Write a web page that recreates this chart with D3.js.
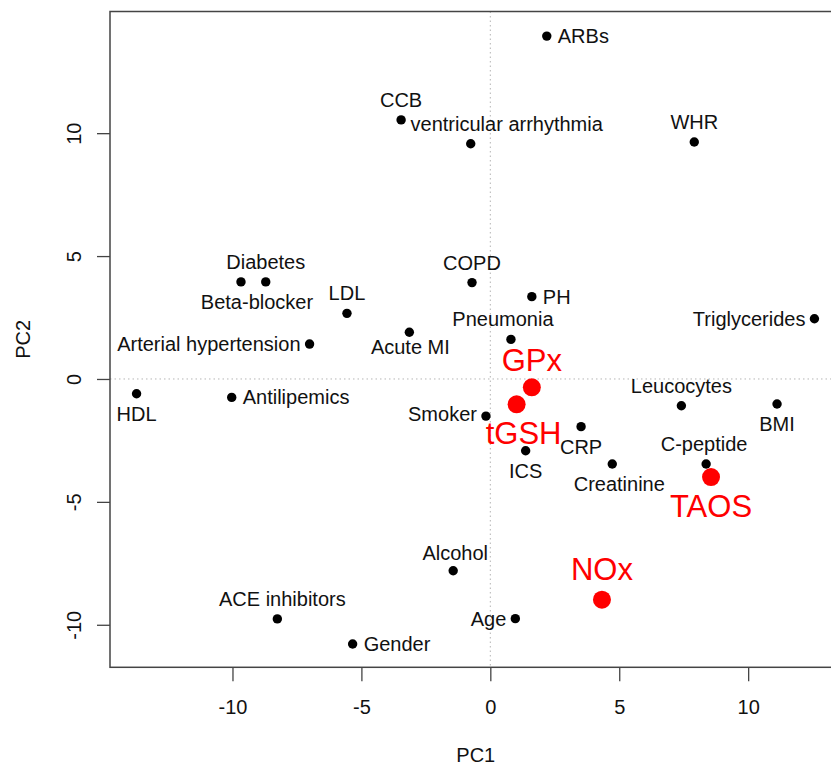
<!DOCTYPE html>
<html>
<head>
<meta charset="utf-8">
<script src="https://cdn.jsdelivr.net/npm/d3@7"></script>
<style>
  body { margin: 0; background: #fff; }
  svg text { font-family: "Liberation Sans", Arial, sans-serif; }
</style>
</head>
<body>
<svg id="chart" width="831" height="765"></svg>
<script>
// variables and their loadings on the first two components
var names = ["ARBs", "CCB", "ventricular arrhythmia", "WHR", "COPD", "PH", "Pneumonia",
    "Triglycerides", "Acute MI", "Diabetes", "Beta-blocker", "LDL", "Arterial hypertension",
    "HDL", "Antilipemics", "GPx", "tGSH", "Smoker", "Leucocytes", "BMI", "CRP", "ICS",
    "Creatinine", "C-peptide", "TAOS", "Alcohol", "NOx", "Age", "ACE inhibitors", "Gender"];
var pc1 = [2.19, -3.46, -0.76, 7.91, -0.71, 1.61, 0.80,
    12.57, -3.14, -8.71, -9.67, -5.56, -7.01,
    -13.72, -10.03, 1.61, 1.02, -0.17, 7.41, 11.12, 3.52, 1.37,
    4.73, 8.37, 8.56, -1.44, 4.33, 0.97, -8.26, -5.34];
var pc2 = [13.95, 10.54, 9.57, 9.64, 3.92, 3.35, 1.61,
    2.45, 1.90, 3.95, 3.95, 2.67, 1.42,
    -0.60, -0.75, -0.34, -1.03, -1.51, -1.09, -1.02, -1.94, -2.92,
    -3.46, -3.46, -3.99, -7.80, -8.98, -9.75, -9.76, -10.78];
var markers = ["GPx", "tGSH", "TAOS", "NOx"];
var xTicks = [-10, -5, 0, 5, 10];
var yTicks = [-10, -5, 0, 5, 10];

// label side like R's text(pos=): 1 below, 2 left, 3 above, 4 right, plus small nudges
var labelPos = [[4], [3], [3, 36], [3], [3], [4], [3, -8],
    [2], [1, 1, -5], [3], [1, 16], [3], [2],
    [1], [4], [3, 0, 2], [1, 7], [2, 0, -2], [3], [1], [1], [1],
    [1, 7], [3, -2], [1], [3, 2, 2], [3, 0, -2], [2], [3, 5], [4]];

var svg = d3.select("#chart");
var pLeft = 110, pTop = 11.5, pBottom = 667.3, pRight = 841.5;
var fontSize = "20px", bigFont = "31px";

var x = d3.scaleLinear().domain([-14.75, 13.62]).range([pLeft, pRight]);
var y = d3.scaleLinear().domain([-11.73, 14.95]).range([pBottom, pTop]);

// zero reference lines
svg.append("line")
    .attr("x1", x(0)).attr("x2", x(0)).attr("y1", pTop).attr("y2", pBottom)
    .attr("stroke", "#b5b5b5").attr("stroke-dasharray", "1.5,3");
svg.append("line")
    .attr("x1", pLeft).attr("x2", pRight).attr("y1", y(0)).attr("y2", y(0))
    .attr("stroke", "#b5b5b5").attr("stroke-dasharray", "1.5,3");

// axes
let xAxis = svg.append("g")
    .attr("transform", `translate(0,${pBottom})`)
    .call(d3.axisBottom(x).tickValues(xTicks).tickSize(14).tickFormat(function (d) { return String(d); }));
xAxis.select(".domain").remove();
xAxis.selectAll("line").attr("stroke", "#444").attr("stroke-width", 1.3);
xAxis.selectAll("text")
    .attr("y", 47).attr("dy", 0)
    .attr("font-size", fontSize).attr("fill", "#111")
    .style("font-family", "'Liberation Sans', Arial, sans-serif");

let yAxis = svg.append("g")
    .attr("transform", `translate(${pLeft},0)`)
    .call(d3.axisLeft(y).tickValues(yTicks).tickSize(13).tickFormat(function (d) { return String(d); }));
yAxis.select(".domain").remove();
yAxis.selectAll("line").attr("stroke", "#444").attr("stroke-width", 1.3);
yAxis.selectAll("text")
    .attr("transform", "rotate(-90)")
    .attr("x", 0).attr("y", -29).attr("dy", 0)
    .attr("text-anchor", "middle")
    .attr("font-size", fontSize).attr("fill", "#111")
    .style("font-family", "'Liberation Sans', Arial, sans-serif");

// plot frame
svg.append("rect")
    .attr("x", pLeft).attr("y", pTop)
    .attr("width", pRight - pLeft).attr("height", pBottom - pTop)
    .attr("fill", "none").attr("stroke", "#444").attr("stroke-width", 1.5);

// axis titles
svg.append("text")
    .attr("x", (pLeft + pRight) / 2).attr("y", 762)
    .attr("text-anchor", "middle").attr("font-size", fontSize).attr("fill", "#111")
    .text("PC1");
svg.append("text")
    .attr("transform", `translate(30,${(pTop + pBottom) / 2}) rotate(-90)`)
    .attr("text-anchor", "middle").attr("font-size", fontSize).attr("fill", "#111")
    .text("PC2");

var isRed = function (i) { return markers.indexOf(names[i]) >= 0; };
var idx = d3.range(names.length);

// points
svg.selectAll(".pt")
    .data(idx)
    .enter().append("circle")
    .attr("class", "pt")
    .attr("cx", function (i) { return x(pc1[i]); })
    .attr("cy", function (i) { return y(pc2[i]); })
    .attr("r", function (i) { return isRed(i) ? 9 : 4.7; })
    .attr("fill", function (i) { return isRed(i) ? "#ff0000" : "#000"; });

// labels
svg.selectAll(".label")
    .data(idx)
    .enter().append("text")
    .attr("class", "label")
    .text(function (i) { return names[i]; })
    .attr("font-size", function (i) { return isRed(i) ? bigFont : fontSize; })
    .attr("fill", function (i) { return isRed(i) ? "#ff0000" : "#111"; })
    .attr("text-anchor", function (i) {
        let p = labelPos[i][0];
        return p == 2 ? "end" : p == 4 ? "start" : "middle";
    })
    .attr("x", function (i) {
        let p = labelPos[i][0], dx = labelPos[i][1] || 0;
        let off = p == 2 ? -9 : p == 4 ? 11 : 0;
        return x(pc1[i]) + off + dx;
    })
    .attr("y", function (i) {
        let p = labelPos[i][0], dy = labelPos[i][2] || 0;
        let red = isRed(i);
        let off = p == 1 ? (red ? 40 : 27) : p == 3 ? (red ? -18 : -13) : 7;
        return y(pc2[i]) + off + dy;
    });
</script>
</body>
</html>
